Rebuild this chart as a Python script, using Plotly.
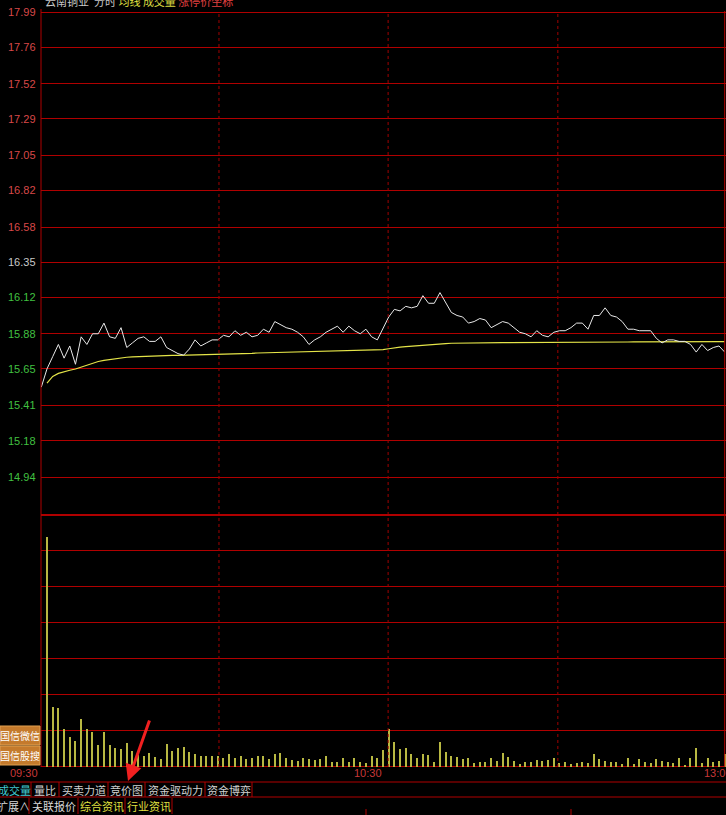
import plotly.graph_objects as go

# ---------------- data ----------------
minutes = list(range(121))  # 09:30 .. 11:30 (shown as 13:00 at the right edge)

price = [15.53, 15.65, 15.73, 15.81, 15.72, 15.80, 15.68, 15.86, 15.81, 15.88,
         15.88, 15.95, 15.86, 15.85, 15.92, 15.79, 15.82, 15.85, 15.86, 15.83,
         15.83, 15.86, 15.79, 15.77, 15.75, 15.74, 15.78, 15.84, 15.80, 15.82,
         15.84, 15.84, 15.87, 15.86, 15.90, 15.87, 15.89, 15.86, 15.87, 15.91,
         15.89, 15.96, 15.94, 15.92, 15.91, 15.89, 15.86, 15.81, 15.84, 15.86,
         15.89, 15.91, 15.93, 15.89, 15.93, 15.90, 15.88, 15.91, 15.86, 15.84,
         15.92, 15.99, 16.04, 16.03, 16.06, 16.05, 16.06, 16.13, 16.08, 16.08,
         16.15, 16.08, 16.02, 16.00, 15.99, 15.95, 15.96, 15.98, 15.97, 15.92,
         15.94, 15.96, 15.95, 15.92, 15.89, 15.88, 15.86, 15.90, 15.87, 15.86,
         15.89, 15.90, 15.90, 15.92, 15.95, 15.95, 15.91, 16.00, 16.00, 16.05,
         16.00, 15.99, 15.96, 15.91, 15.91, 15.90, 15.90, 15.90, 15.85, 15.82,
         15.84, 15.84, 15.83, 15.83, 15.81, 15.76, 15.81, 15.77, 15.79, 15.80,
         15.76]

avg_price = [None, 15.556, 15.600, 15.620, 15.632, 15.641, 15.649, 15.661, 15.676, 15.689,
             15.698, 15.705, 15.711, 15.717, 15.722, 15.726, 15.729, 15.731, 15.733, 15.735,
             15.736, 15.737, 15.738, 15.739, 15.739, 15.740, 15.740, 15.740, 15.741, 15.741,
             15.741, 15.742, 15.744, 15.746, 15.748, 15.749, 15.751, 15.752, 15.754, 15.755,
             15.757, 15.758, 15.759, 15.760, 15.761, 15.762, 15.762, 15.763, 15.763, 15.765,
             15.767, 15.768, 15.769, 15.769, 15.770, 15.770, 15.770, 15.771, 15.774, 15.775,
             15.776, 15.782, 15.789, 15.793, 15.796, 15.798, 15.801, 15.804, 15.807, 15.810,
             15.813, 15.815, 15.818, 15.819, 15.820, 15.820, 15.820, 15.820, 15.821, 15.821,
             15.821, 15.822, 15.822, 15.822, 15.822, 15.823, 15.823, 15.823, 15.823, 15.823,
             15.823, 15.824, 15.824, 15.824, 15.824, 15.824, 15.824, 15.826, 15.826, 15.826,
             15.826, 15.826, 15.826, 15.826, 15.827, 15.827, 15.827, 15.827, 15.827, 15.827,
             15.827, 15.827, 15.827, 15.828, 15.828, 15.828, 15.828, 15.828, 15.828, 15.828,
             15.828]

volume = [0, 6390, 1650, 1620, 1040, 815, 720, 1340, 1040, 970,
          600, 970, 600, 530, 480, 650, 435, 330, 305, 370,
          280, 215, 630, 445, 530, 535, 415, 355, 300, 305,
          300, 300, 230, 340, 250, 305, 205, 250, 305, 300,
          215, 355, 390, 250, 185, 165, 230, 215, 185, 215,
          305, 140, 140, 250, 120, 250, 140, 90, 300, 250,
          465, 1040, 695, 480, 510, 355, 230, 355, 325, 120,
          695, 415, 305, 260, 215, 250, 90, 140, 120, 250,
          160, 390, 280, 160, 75, 120, 140, 185, 160, 185,
          250, 110, 120, 75, 90, 120, 90, 355, 215, 160,
          140, 120, 75, 250, 75, 215, 120, 90, 215, 160,
          140, 90, 230, 45, 250, 530, 110, 250, 120, 160,
          355]

prev_close = 16.35
price_ticks = [17.99, 17.76, 17.52, 17.29, 17.05, 16.82, 16.58, 16.35,
               16.12, 15.88, 15.65, 15.41, 15.18, 14.94]
price_tick_labels = ["17.99", "17.76", "17.52", "17.29", "17.05", "16.82", "16.58", "16.35",
                     "16.12", "15.88", "15.65", "15.41", "15.18", "14.94"]
volume_ticks = [0, 1000, 2000, 3000, 4000, 5000, 6000, 7000]
time_labels = ["09:30", "10:30", "13:00"]
time_label_minutes = [0, 60, 120]
half_hour_lines = [31.2, 60.9, 90.7]
tabs_row1 = ["成交量", "量比", "买卖力道", "竞价图", "资金驱动力", "资金博弈"]
tabs_row2 = ["扩展∧", "关联报价", "综合资讯", "行业资讯"]
side_buttons = ["国信微信", "国信股搜"]

# ---------------- layout helpers ----------------
W, H = 726, 815
def px(x):
    return x / W
def py(y):
    return 1 - y / H

RED = "#b00000"
FONT = "Liberation Sans, Arial, sans-serif"
CJK = "Noto Sans CJK SC, sans-serif"

fig = go.Figure()

fig.add_trace(go.Bar(x=minutes, y=volume, width=0.2, marker=dict(color="#b8b842", line=dict(width=0)),
                     xaxis="x2", yaxis="y2", hoverinfo="skip"))
fig.add_trace(go.Scatter(x=minutes, y=avg_price, mode="lines", line=dict(color="#e4e448", width=1.2),
                         xaxis="x", yaxis="y", hoverinfo="skip", connectgaps=False))
fig.add_trace(go.Scatter(x=minutes, y=price, mode="lines", line=dict(color="#e8e8e8", width=1),
                         xaxis="x", yaxis="y", hoverinfo="skip"))

xr = [-0.053, 120.23]
s_price = 152.5  # px per yuan
p_top = 17.99 + 12 / s_price
p_bot = 17.99 - (513 - 12) / s_price
s_vol = (766.7 - 515) / 7000
v_top = (766.7 - 514) / s_vol
v_bot = (766.7 - 768) / s_vol

fig.update_layout(
    width=W, height=H, margin=dict(l=0, r=0, t=0, b=0),
    paper_bgcolor="#000000", plot_bgcolor="#000000", showlegend=False,
    bargap=0,
    xaxis=dict(domain=[px(41), 1], range=xr, anchor="y", showgrid=False, zeroline=False,
               showticklabels=False, ticks="", fixedrange=True),
    xaxis2=dict(domain=[px(41), 1], range=xr, anchor="y2", showgrid=False, zeroline=False,
                showticklabels=False, ticks="", matches="x"),
    yaxis=dict(domain=[py(513), 1], range=[p_bot, p_top], tickvals=price_ticks, showticklabels=False,
               ticks="", showgrid=True, gridcolor=RED, gridwidth=1, zeroline=False),
    yaxis2=dict(domain=[py(768), py(514)], range=[v_bot, v_top], tickvals=volume_ticks,
                showticklabels=False, ticks="", showgrid=True, gridcolor=RED, gridwidth=1,
                zeroline=True, zerolinecolor=RED, zerolinewidth=1),
)

shapes = []
# half-hour dotted separators across both panels
for m in half_hour_lines:
    shapes.append(dict(type="line", xref="x", yref="paper", x0=m, x1=m, y0=py(767), y1=py(11),
                       line=dict(color="#a00000", width=1, dash="dot")))
# right edge separator
shapes.append(dict(type="line", xref="x", yref="paper", x0=120, x1=120, y0=py(767), y1=py(11),
                   line=dict(color=RED, width=1)))
# left axis line
shapes.append(dict(type="line", xref="paper", yref="paper", x0=px(41), x1=px(41), y0=py(767), y1=py(9),
                   line=dict(color=RED, width=1)))
# thick top line of volume panel
shapes.append(dict(type="line", xref="paper", yref="y2", x0=px(41), x1=1, y0=7000, y1=7000,
                   line=dict(color=RED, width=2)))
# tab bar row 1 box
for yy in (782, 797):
    shapes.append(dict(type="line", xref="paper", yref="paper", x0=0, x1=1, y0=py(yy), y1=py(yy),
                       line=dict(color=RED, width=1)))
for xx in (31, 59, 108, 145, 205, 252):
    shapes.append(dict(type="line", xref="paper", yref="paper", x0=px(xx), x1=px(xx), y0=py(797), y1=py(782),
                       line=dict(color=RED, width=1)))
for xx in (29, 78, 125, 172):
    shapes.append(dict(type="line", xref="paper", yref="paper", x0=px(xx), x1=px(xx), y0=py(814), y1=py(798),
                       line=dict(color=RED, width=1)))
for xx in (366, 571):
    shapes.append(dict(type="line", xref="paper", yref="paper", x0=px(xx), x1=px(xx), y0=py(815), y1=py(809),
                       line=dict(color=RED, width=1)))
# side buttons
for i, yy in enumerate((726, 746)):
    shapes.append(dict(type="rect", xref="paper", yref="paper", x0=0, x1=px(40), y0=py(yy + 19), y1=py(yy),
                       fillcolor="#c47a2c", line=dict(color="#e0a050", width=1)))

annotations = []
# coloured price labels
for v, t in zip(price_ticks, price_tick_labels):
    if v > prev_close + 1e-9:
        c = "#d84848"
    elif v < prev_close - 1e-9:
        c = "#40c040"
    else:
        c = "#c8c8c8"
    annotations.append(dict(xref="paper", yref="y", x=px(38), y=v, text=t, showarrow=False,
                            xanchor="right", yanchor="middle", font=dict(family=FONT, size=11, color=c)))
# time labels
time_pos = {0: (40, "right"), 60: (384, "right"), 120: (702, "left")}
for lab, m in zip(time_labels, time_label_minutes):
    xx, anc = time_pos[m]
    annotations.append(dict(xref="paper", yref="paper", x=px(xx), y=py(773), text=lab, showarrow=False,
                            xanchor=anc, yanchor="middle", font=dict(family=FONT, size=11, color="#c83838")))
# header (partly clipped at top)
annotations.append(dict(xref="paper", yref="paper", x=px(43), y=py(1), xanchor="left", yanchor="middle",
                        showarrow=False, font=dict(family=CJK, size=11, color="#c8c8c8"),
                        text="云南铜业  分时 <span style='color:#e0e040'>均线</span> "
                             "<span style='color:#d8d840'>成交量</span> "
                             "<span style='color:#e04040'>涨停价坐标</span>"))
# tabs row 1
row1_centers = [14, 45, 83.5, 126.5, 175, 228.5]
row1_colors = ["#40c8d0", "#d0d0d0", "#d0d0d0", "#d0d0d0", "#d0d0d0", "#d0d0d0"]
for t, cx, c in zip(tabs_row1, row1_centers, row1_colors):
    annotations.append(dict(xref="paper", yref="paper", x=px(cx), y=py(790), text=t, showarrow=False,
                            xanchor="center", yanchor="middle", font=dict(family=CJK, size=11, color=c)))
row2_centers = [13, 53.5, 101.5, 148.5]
row2_colors = ["#d8d8d8", "#d8d8d8", "#e0e040", "#e0e040"]
for t, cx, c in zip(tabs_row2, row2_centers, row2_colors):
    annotations.append(dict(xref="paper", yref="paper", x=px(cx), y=py(806), text=t, showarrow=False,
                            xanchor="center", yanchor="middle", font=dict(family=CJK, size=11, color=c)))
# side buttons text
for t, yy in zip(side_buttons, (735.5, 755.5)):
    annotations.append(dict(xref="paper", yref="paper", x=px(20), y=py(yy), text=t, showarrow=False,
                            xanchor="center", yanchor="middle", font=dict(family=CJK, size=10, color="#ffffff")))
# red pointer arrow
annotations.append(dict(xref="paper", yref="paper", x=px(128), y=py(781), ax=22, ay=-62, text="",
                        showarrow=True, arrowhead=2, arrowsize=1.1, arrowwidth=3, arrowcolor="#f02020"))

fig.update_layout(shapes=shapes, annotations=annotations)
fig.write_html("out.html",
               config={"displayModeBar": False},
               post_script="document.body.style.margin='0';document.body.style.overflow='hidden';"
                           "document.body.style.background='#000';")
